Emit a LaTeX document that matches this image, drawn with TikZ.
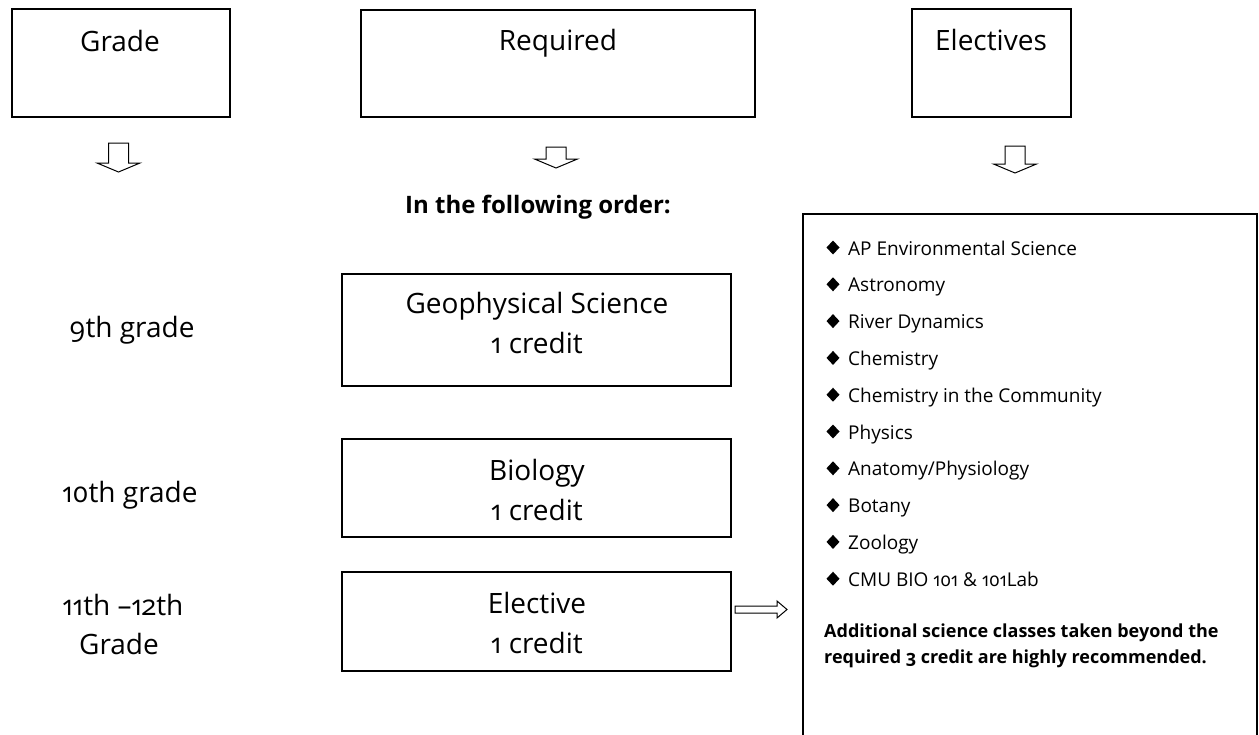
\documentclass[tikz,border=0pt]{standalone}
\usepackage{fontspec}
\setmainfont{Open Sans}[Numbers=OldStyle]
\begin{document}
\begin{tikzpicture}[x=1pt,y=-1pt,
  box/.style={draw,line width=1.3pt,inner sep=0pt},
  big/.style={font=\fontsize{28}{30}\selectfont,anchor=base,inner sep=0pt},
  item/.style={font=\fontsize{19}{22}\selectfont,anchor=base west,inner sep=0pt},
  note/.style={font=\bfseries\fontsize{18}{26}\selectfont,anchor=base west,inner sep=0pt},
  blockarrow/.style={draw,line width=1pt,fill=white},
  bullet/.style={fill=black}]
\useasboundingbox (0,0) rectangle (1259,734);
% header boxes
\node[box,minimum width=218pt,minimum height=108pt] (gradebox) at (121,63) {};
\node[box,minimum width=394pt,minimum height=107pt] (reqbox) at (558,63.5) {};
\node[box,minimum width=159pt,minimum height=108pt] (elecbox) at (991.5,63) {};
\node[big] (tgrade) at (120,51) {Grade};
\node[big] (treq) at (558,50) {Required};
\node[big] (telec) at (991,50) {Electives};
% down block arrows
\newcommand\blockdown[4]{% x, ytop, shaft, head
  \draw[blockarrow] (#1-10,#2) -- (#1+10,#2) -- (#1+10,#2+#3) -- (#1+21.5,#2+#3)
    -- (#1,#2+#3+#4) -- (#1-21.5,#2+#3) -- (#1-10,#2+#3) -- cycle;}
\blockdown{118.5}{143}{20}{9}
\blockdown{556}{147}{12}{9}
\blockdown{1015}{146}{18}{9}
\node[big,anchor=base west,font=\bfseries\fontsize{24}{26}\selectfont] (order) at (405,213) {In the following order:};
% grade labels
\node[big] (g9) at (132,337) {9th grade};
\node[big] (g10) at (130,502) {10th grade};
\node[big] (g11) at (123,615) {11th –12th};
\node[big] (g11b) at (119,654) {Grade};
% required boxes
\node[box,minimum width=389pt,minimum height=112pt] (geo) at (536.5,330) {};
\node[box,minimum width=389pt,minimum height=98pt] (bio) at (536.5,488) {};
\node[box,minimum width=389pt,minimum height=99pt] (ele) at (536.5,621.5) {};
\node[big] (tgeo) at (537,313) {Geophysical Science};
\node[big] (tgeoc) at (537,353) {1 credit};
\node[big] (tbio) at (537,480) {Biology};
\node[big] (tbioc) at (537,520) {1 credit};
\node[big] (tele) at (537,613) {Elective};
\node[big] (telec2) at (537,653) {1 credit};
% electives list box (open at the bottom)
\coordinate (bl) at (803,740);
\coordinate (tl) at (803,214);
\coordinate (tr) at (1257,214);
\coordinate (br) at (1257,740);
\draw[line width=1.3pt] (bl) -- (tl) -- (tr) -- (br);
% right block arrow
\coordinate (ra) at (735,609.5);
\draw[blockarrow] (ra) ++(0,-3.5) -- ++(42,0) -- ++(0,-5) -- ++(10,8.5) -- ++(-10,8.5) -- ++(0,-5) -- ++(-42,0) -- cycle;
% items
\foreach \t [count=\i from 0] in {AP Environmental Science,Astronomy,River Dynamics,Chemistry,Chemistry in the Community,Physics,Anatomy/Physiology,Botany,Zoology,CMU BIO 101 \& 101Lab}{
  \pgfmathsetmacro\yy{255+36.8*\i}
  \fill[bullet] (833,\yy-14.5) -- (839.5,\yy-7.5) -- (833,\yy-0.5) -- (826.5,\yy-7.5) -- cycle;
  \node[item] (it\i) at (848,\yy) {\t};
}
\node[note] (n1) at (824,637) {Additional science classes taken beyond the};
\node[note] (n2) at (824,663) {required 3 credit are highly recommended.};
\end{tikzpicture}
\end{document}
